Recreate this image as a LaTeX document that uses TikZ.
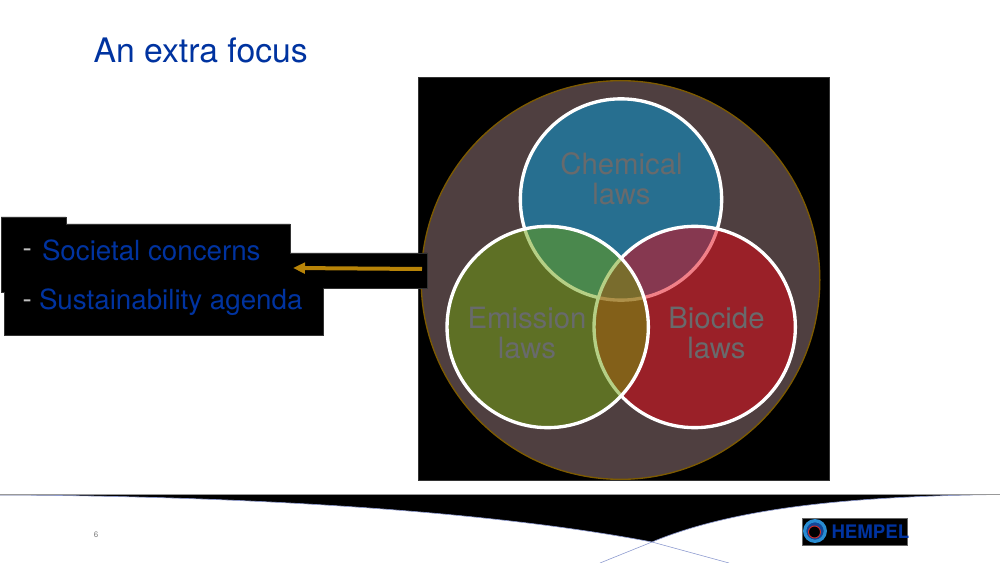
\documentclass[tikz,border=0pt]{standalone}
\usepackage{fontspec}
\setmainfont{TeX Gyre Heros}
\usepackage{tikz}
\usetikzlibrary{arrows.meta}
\definecolor{titleblue}{RGB}{0,51,160}
\definecolor{lawgray}{RGB}{104,106,108}
\definecolor{ringbrown}{RGB}{125,90,0}
\definecolor{arrowgold}{RGB}{184,132,8}
\tikzset{every picture/.style={line width=0.75pt}}
\tikzset{
  lawcircle/.style={circle,draw=white,line width=2.5pt,fill opacity=0.5,minimum size=151pt,inner sep=0pt},
  lawtext/.style={font=\fontsize{22}{22.5}\selectfont,text=lawgray,align=center},
  bluetext/.style={font=\fontsize{20.8}{24}\selectfont,text=titleblue,anchor=west,inner sep=0pt},
  dashtext/.style={font=\fontsize{20.8}{24}\selectfont,text=white!75!black,anchor=west,inner sep=0pt},
  backing/.style={fill=black,draw=black!80,line width=0.4pt},
  footline/.style={draw={rgb,255:red,142;green,155;blue,208},line width=0.45pt}
}
\begin{document}
\begin{tikzpicture}[x=0.75pt,y=0.75pt,yscale=-1,xscale=1]
\useasboundingbox (0,0) rectangle (1000,563);

%Black panel
\draw [backing] (418,77) rectangle (829,480);

%Outer circle
\node [circle,draw=ringbrown,fill={rgb,255:red,79;green,63;blue,64},line width=1pt,minimum size=299pt,inner sep=0pt] (outer) at (620.5,280) {};

%Panel behind the list and arrow
\draw [backing] (1,217) -- (66,217) -- (66,224) -- (290,224) -- (290,253) -- (427,253) -- (427,288) -- (323.5,288) -- (323.5,335) -- (4.5,335) -- (4.5,292) -- (1,292) -- cycle;

%Law circles
\node [lawcircle,fill={rgb,255:red,0;green,159;blue,224}] (chemical) at (621,199.5) {};
\node [lawcircle,fill={rgb,255:red,229;green,3;blue,18}] (biocide) at (694.7,327) {};
\node [lawcircle,fill={rgb,255:red,109;green,161;blue,12}] (emission) at (547.7,327) {};

% Text Node
\node [lawtext] (chemtext) at (621.5,179) {Chemical\\laws};
\node [lawtext] (emistext) at (527,333) {Emission\\laws};
\node [lawtext] (biotext) at (716.5,333) {Biocide\\laws};

%Title and list
\node [font=\fontsize{25.3}{28}\selectfont,text=titleblue,anchor=west,inner sep=0pt] (title) at (93,50.5) {An extra focus};
\node [dashtext] (dasha) at (22,253) {-};
\node [bluetext] (societal) at (41.5,250) {Societal concerns};
\node [dashtext] (dashb) at (22,304) {-};
\node [bluetext] (agenda) at (38.5,302) {Sustainability agenda};

%Arrow
\coordinate (arrowstart) at (422,269);
\coordinate (arrowend) at (293,268);
\draw [arrowgold,line width=3pt,-{Triangle[length=9pt,width=8pt]}] (arrowstart) -- (arrowend);

%Footer
\coordinate (footl) at (0,495);
\coordinate (footr) at (1000,494.5);
\coordinate (foottip) at (652,542);
\fill [black] (footl) .. controls (250,496) and (490,511) .. (foottip) .. controls (745,503) and (880,496) .. (footr) -- cycle;
\draw [footline] (footl) .. controls (250,496) and (490,511) .. (foottip) -- (729,563);
\draw [footline] (footr) .. controls (880,496) and (745,503) .. (foottip) -- (600,563);
\draw [black!40,line width=0.6pt] (footl |- 0,494) -- (footr |- 0,494);
\node [font=\fontsize{6}{7}\selectfont,text=black!50] (pagenum) at (96,535) {6};

%Logo
\node [fill=black,draw=black!60,line width=0.3pt,minimum width=79pt,minimum height=20pt,inner sep=0pt] (logo) at (855,531.5) {};
\node [circle,fill={rgb,255:red,20;green,70;blue,150},draw={rgb,255:red,40;green,140;blue,210},line width=2.4pt,minimum size=15.5pt,inner sep=0pt] (logoring) at (815,531) {};
\node [circle,fill=black,draw={rgb,255:red,210;green,45;blue,45},line width=0.7pt,minimum size=9pt,inner sep=0pt] (logocore) at (814.5,532) {};
\node [font=\fontsize{14}{14}\bfseries\selectfont,text=titleblue,anchor=west,inner sep=0pt] (logotext) at (831,531.5) {HEMPEL};
\end{tikzpicture}
\end{document}
